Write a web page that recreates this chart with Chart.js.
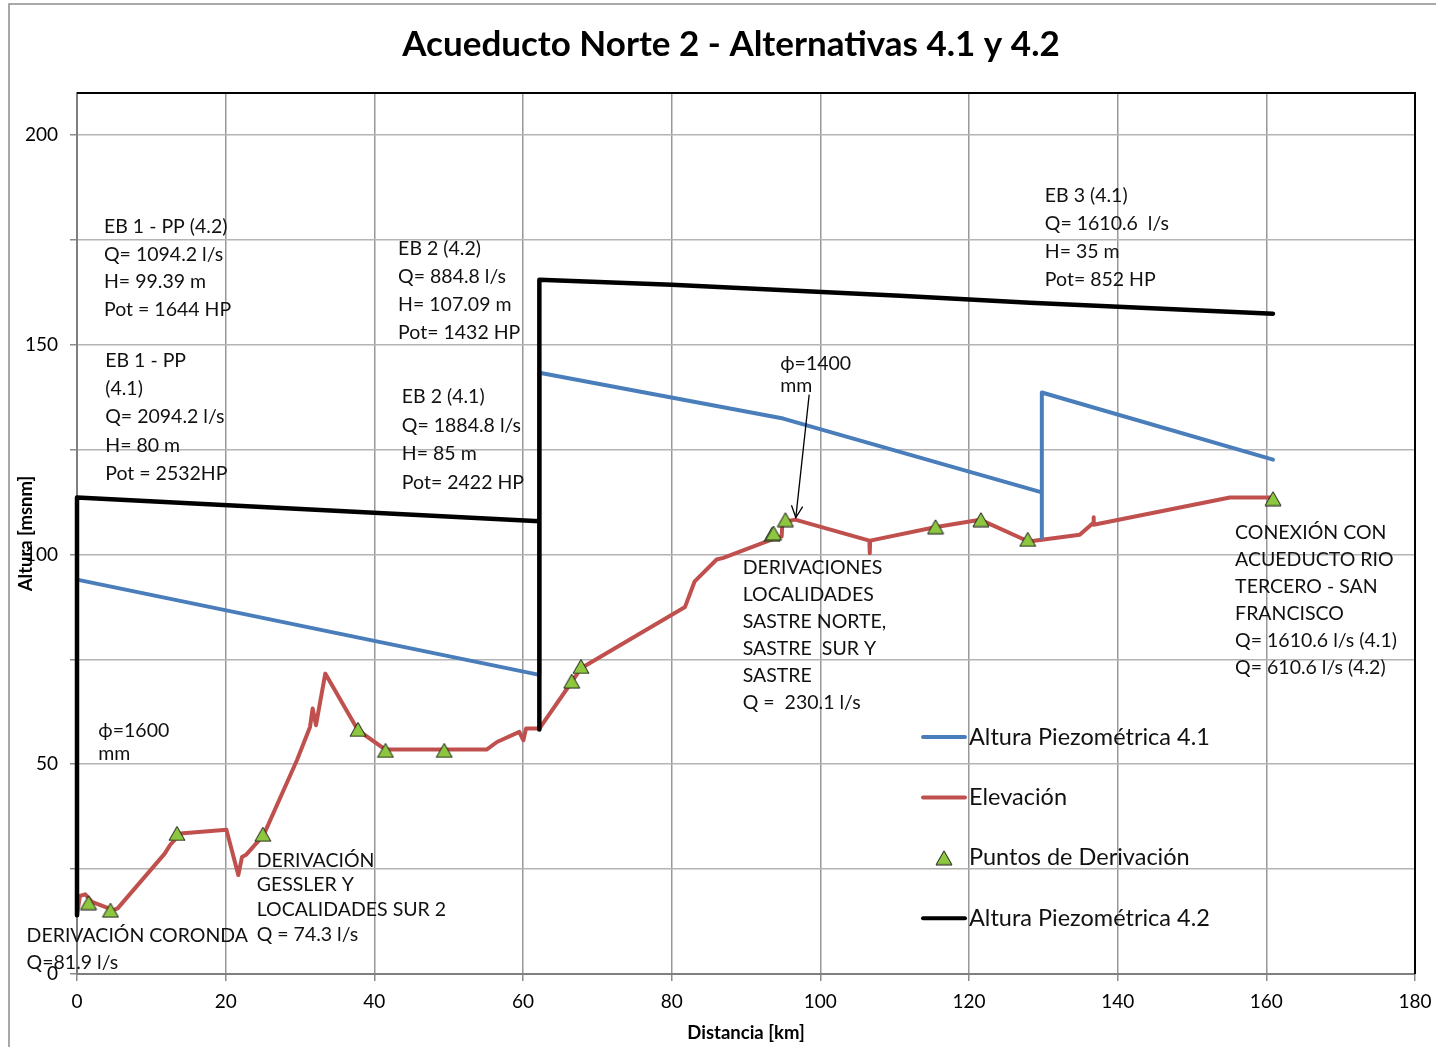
<!DOCTYPE html>
<html>
<head>
<meta charset="utf-8">
<title>Acueducto Norte 2 - Alternativas 4.1 y 4.2</title>
<script src="https://cdn.jsdelivr.net/npm/chart.js@4.4.1/dist/chart.umd.min.js"></script>
<style>
  html, body { margin: 0; padding: 0; background: #fff; }
  #wrap { width: 1436px; height: 1047px; }
</style>
</head>
<body>
<div id="wrap"><canvas id="perfil" width="1436" height="1047"></canvas></div>
<script>
// perfil de elevación del terreno (km / msnm)
const elevKm = [0, 0.4, 1.1, 2.0, 4.9, 5.5, 11.8, 12.5, 13.9, 20.1, 21.7, 22.2, 22.8, 25.1, 29.6,
  31.35, 31.7, 32.15, 33.4, 37.8, 41.5, 55.1, 56.5, 59.5, 60.05, 60.4, 62.2, 66.55, 67.8, 81.8,
  83.1, 86.05, 86.95, 93.7, 94.8, 94.9, 96.6, 106.6, 106.65, 106.7, 115.4, 121.5, 128.0, 129.8,
  134.9, 136.7, 136.75, 136.8, 155.1, 160.95];
const elevM = [14.0, 18.6, 19.0, 17.2, 15.2, 15.7, 28.7, 30.7, 33.5, 34.4, 23.6, 27.9, 28.5, 33.1, 51.0,
  58.9, 63.3, 59.3, 71.6, 58.1, 53.5, 53.5, 55.3, 57.7, 55.7, 58.5, 58.5, 69.6, 72.9, 87.5,
  93.6, 98.8, 99.2, 103.7, 104.3, 107.7, 108.3, 103.3, 100.3, 103.3, 106.5, 108.3, 103.1, 103.5,
  104.7, 107.5, 108.9, 107.1, 113.6, 113.6];

// línea piezométrica alternativa 4.1
const p41Km = [0, 62.2, 62.2, 95.0, 129.8, 129.8, 129.8, 160.9];
const p41M  = [94.0, 71.3, 143.3, 132.4, 114.8, 104.0, 138.6, 122.6];

// línea piezométrica alternativa 4.2
const p42Km = [0, 0, 62.2, 62.2, 62.2, 80.0, 110.7, 128.2, 160.9];
const p42M  = [14.0, 113.6, 107.9, 58.3, 165.5, 164.3, 161.7, 160.0, 157.4];

// puntos de derivación
const derivKm = [1.55, 4.5, 13.45, 25.0, 37.8, 41.5, 49.4, 66.55, 67.8, 93.5, 93.7, 95.3, 115.5, 121.6, 127.9, 160.9];
const derivM  = [17.0, 15.2, 33.5, 33.3, 58.3, 53.3, 53.3, 69.8, 73.3, 104.8, 105.1, 108.3, 106.6, 108.3, 103.6, 113.3];

const xTicks = [0, 20, 40, 60, 80, 100, 120, 140, 160, 180];
const yLabelStep = 50;

const FONT = "Lato, Carlito, 'Open Sans', sans-serif";

// textos (anclados en coordenadas km / msnm)
const notes = [
  { km: 3.63, m: 178.1, lh: 27.6, lines: ["EB 1 - PP (4.2)", "Q= 1094.2 l/s", "H= 99.39 m", "Pot = 1644 HP"] },
  { km: 3.8, m: 146.2, lh: 28.2, lines: ["EB 1 - PP", "(4.1)", "Q= 2094.2 l/s", "H= 80 m", "Pot = 2532HP"] },
  { km: 43.2, m: 173.0, lh: 28.1, lines: ["EB 2 (4.2)", "Q= 884.8 l/s", "H= 107.09 m", "Pot= 1432 HP"] },
  { km: 43.7, m: 137.6, lh: 28.6, lines: ["EB 2 (4.1)", "Q= 1884.8 l/s", "H= 85 m", "Pot= 2422 HP"] },
  { km: 130.2, m: 185.5, lh: 28.1, lines: ["EB 3 (4.1)", "Q= 1610.6  l/s", "H= 35 m", "Pot= 852 HP"] },
  { km: 94.6, m: 145.5, lh: 22.5, lines: ["\u03d5=1400", "mm"] },
  { km: 2.87, m: 58.1, lh: 23.3, lines: ["\u03d5=1600", "mm"] },
  { km: 89.56, m: 96.8, lh: 26.9, lines: ["DERIVACIONES", "LOCALIDADES", "SASTRE NORTE,", "SASTRE  SUR Y", "SASTRE", "Q =  230.1 l/s"] },
  { km: 155.8, m: 105.3, lh: 27.0, lines: ["CONEXIÓN CON", "ACUEDUCTO RIO", "TERCERO - SAN", "FRANCISCO", "Q= 1610.6 l/s (4.1)", "Q= 610.6 l/s (4.2)"] },
  { km: 24.17, m: 27.1, lh: 24.7, lines: ["DERIVACIÓN", "GESSLER Y", "LOCALIDADES SUR 2", "Q = 74.3 l/s"] },
  { km: -6.78, m: 9.05, lh: 26.7, lines: ["DERIVACIÓN CORONDA", "Q=81.9 l/s"] },
];
const arrow = { fromKm: 98.5, fromM: 138.1, toKm: 96.7, toM: 108.8 };

const legendOrder = ["Altura Piezométrica 4.1", "Elevación", "Puntos de Derivación", "Altura Piezométrica 4.2"];

const pts = (xs, ys) => xs.map((x, i) => ({ x, y: ys[i] }));

function makeTriangle() {
  const c = document.createElement("canvas");
  c.width = 18; c.height = 16;
  const g = c.getContext("2d");
  g.beginPath();
  g.moveTo(9, 1); g.lineTo(17, 15); g.lineTo(1, 15); g.closePath();
  g.fillStyle = "#8dc63f"; g.fill();
  g.strokeStyle = "#1a1a1a"; g.lineWidth = 1; g.stroke();
  return c;
}
const tri = makeTriangle();

const frame = {
  id: "frame",
  beforeDraw(chart) {
    const { ctx } = chart;
    ctx.save();
    ctx.fillStyle = "#fff";
    ctx.fillRect(0, 0, chart.width, chart.height);
    ctx.strokeStyle = "#8c8c8c"; ctx.lineWidth = 1.5;
    ctx.beginPath();
    ctx.moveTo(9, chart.height); ctx.lineTo(9, 4); ctx.lineTo(chart.width, 4);
    ctx.stroke();
    ctx.restore();
  },
  beforeDatasetsDraw(chart) {
    const { ctx, chartArea: a } = chart;
    ctx.save();
    ctx.strokeStyle = "#000"; ctx.lineWidth = 2;
    ctx.beginPath();
    ctx.moveTo(a.left, a.top); ctx.lineTo(a.right, a.top); ctx.lineTo(a.right, a.bottom);
    ctx.stroke();
    ctx.restore();
  },
  afterDraw(chart) {
    const { ctx, chartArea: a } = chart;
    const xs = chart.scales.x, ys = chart.scales.y;
    ctx.save();

    // titulo
    ctx.fillStyle = "#000";
    ctx.font = "bold 35px " + FONT;
    ctx.textAlign = "center"; ctx.textBaseline = "middle";
    ctx.fillText("Acueducto Norte 2 - Alternativas 4.1 y 4.2", 731, 45);

    // notas
    ctx.font = "19.5px " + FONT;
    ctx.textAlign = "left";
    ctx.fillStyle = "#111";
    notes.forEach((n) => {
      const x = xs.getPixelForValue(n.km), y = ys.getPixelForValue(n.m);
      n.lines.forEach((t, i) => ctx.fillText(t, x, y + i * n.lh));
    });

    // flecha ϕ=1400
    const x1 = xs.getPixelForValue(arrow.fromKm), y1 = ys.getPixelForValue(arrow.fromM);
    const x2 = xs.getPixelForValue(arrow.toKm), y2 = ys.getPixelForValue(arrow.toM);
    ctx.strokeStyle = "#000"; ctx.lineWidth = 1.3;
    ctx.beginPath(); ctx.moveTo(x1, y1); ctx.lineTo(x2, y2); ctx.stroke();
    const ang = Math.atan2(y2 - y1, x2 - x1);
    ctx.beginPath();
    ctx.moveTo(x2 - 13 * Math.cos(ang - 0.45), y2 - 13 * Math.sin(ang - 0.45));
    ctx.lineTo(x2, y2);
    ctx.lineTo(x2 - 13 * Math.cos(ang + 0.45), y2 - 13 * Math.sin(ang + 0.45));
    ctx.stroke();

    // leyenda
    const lx = a.left + 846, ly = a.top + 644, step = 60.4;
    ctx.font = "23.5px " + FONT;
    ctx.textBaseline = "middle";
    legendOrder.forEach((lab, i) => {
      const ds = chart.data.datasets.find((d) => d.label === lab);
      const y = ly + i * step;
      if (ds.showLine === false) {
        ctx.drawImage(tri, lx + 21 - tri.width / 2, y - tri.height / 2);
      } else {
        ctx.strokeStyle = ds.borderColor; ctx.lineWidth = 4; ctx.lineCap = "round";
        ctx.beginPath(); ctx.moveTo(lx, y); ctx.lineTo(lx + 42, y); ctx.stroke();
      }
      ctx.fillStyle = "#111";
      ctx.fillText(lab, lx + 46, y);
    });
    ctx.restore();
  },
};

const lineDs = (label, data, color, width, order) => ({
  label, data, order,
  borderColor: color, backgroundColor: color,
  borderWidth: width, pointRadius: 0, tension: 0,
  borderCapStyle: "round", borderJoinStyle: "round",
  fill: false, clip: false,
});

new Chart(document.getElementById("perfil"), {
  type: "line",
  data: {
    datasets: [
      { label: "Puntos de Derivación", data: pts(derivKm, derivM), showLine: false,
        pointStyle: tri, pointRadius: 8, order: 0, clip: false },
      lineDs("Altura Piezométrica 4.2", pts(p42Km, p42M), "#000000", 4.5, 1),
      lineDs("Altura Piezométrica 4.1", pts(p41Km, p41M), "#4a7ebb", 4, 2),
      lineDs("Elevación", pts(elevKm, elevM), "#c0504d", 4, 3),
    ],
  },
  options: {
    responsive: false,
    animation: false,
    events: [],
    layout: { padding: { top: 93, right: 21, left: 0, bottom: 0 } },
    plugins: { legend: { display: false }, tooltip: { enabled: false }, title: { display: false } },
    scales: {
      x: {
        type: "linear", min: 0, max: 180,
        afterFit: (s) => { s.height = 73; s.paddingLeft = 0; s.paddingRight = 0; },
        afterBuildTicks: (s) => { s.ticks = xTicks.map((v) => ({ value: v })); },
        ticks: { color: "#000", padding: 9, font: { family: FONT, size: 19 } },
        grid: { color: "#989898", lineWidth: 1.5, tickLength: 7, tickColor: "#8a8a8a" },
        border: { color: "#7f7f7f", width: 2 },
        title: { display: true, text: "Distancia [km]", color: "#000",
                 font: { family: FONT, size: 18.5, weight: "bold" }, padding: { top: 0, bottom: 3 } },
      },
      y: {
        type: "linear", min: 0, max: 210,
        afterFit: (s) => { s.width = 77; s.paddingTop = 0; s.paddingBottom = 0; },
        ticks: { stepSize: 25, includeBounds: false, color: "#000", padding: 12,
                 font: { family: FONT, size: 19 },
                 callback: (v) => (v % yLabelStep === 0 ? v : "") },
        grid: { color: "#b4b4b4", lineWidth: 1.5, tickLength: 7, tickColor: "#8a8a8a" },
        border: { color: "#7f7f7f", width: 2 },
        title: { display: true, text: "Altura [msnm]", color: "#000",
                 font: { family: FONT, size: 18.5, weight: "bold" }, padding: { top: 15, bottom: 0 } },
      },
    },
  },
  plugins: [frame],
});
</script>
</body>
</html>
